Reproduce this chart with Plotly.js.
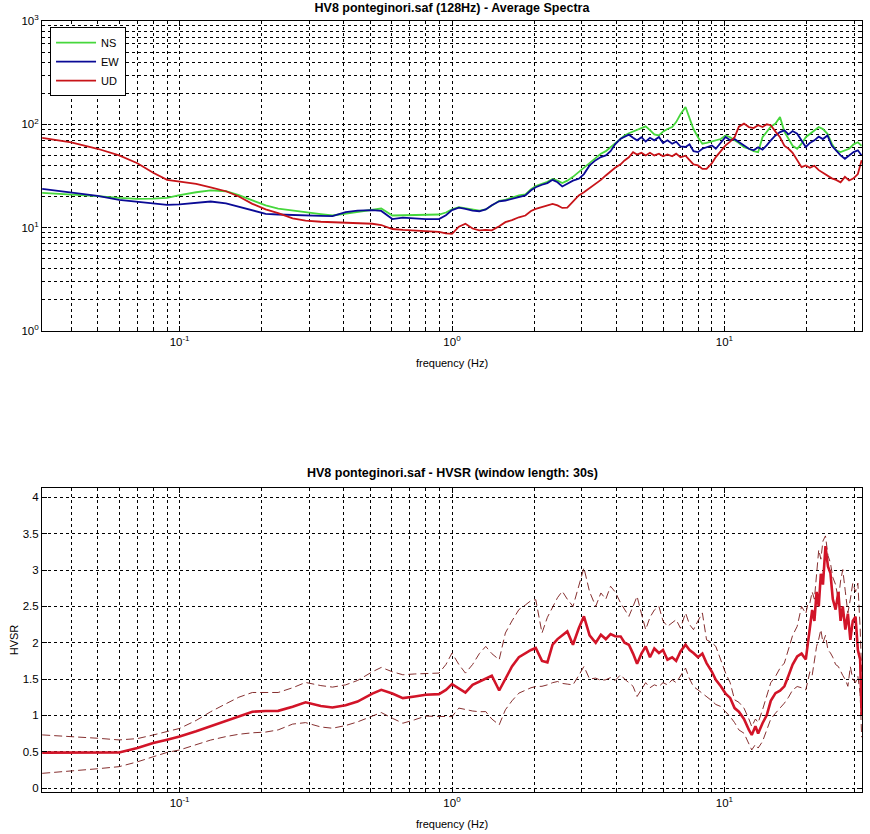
<!DOCTYPE html>
<html>
<head>
<meta charset="utf-8">
<script src="https://cdn.plot.ly/plotly-3.0.1.min.js"></script>
<style>html,body{margin:0;padding:0;background:#fff;}#chart{width:870px;height:834px;}</style>
</head>
<body>
<div id="chart"></div>
<script>
// ---------- Average spectra (top) ----------
const specFreq = [
0.0313,0.04,0.05,0.06,0.07,0.08,0.09,0.1,0.115,0.13,
0.148,0.165,0.185,0.207,0.23,0.26,0.29,0.33,0.364,0.407,
0.45,0.51,0.55,0.604,0.66,0.73,0.8,0.896,0.95,1.0,
1.06,1.12,1.19,1.26,1.33,1.4,1.49,1.57,1.66,1.76,
1.86,1.95,2.03,2.14,2.24,2.34,2.44,2.54,2.65,2.78,
2.92,3.05,3.2,3.37,3.52,3.67,3.82,3.97,4.16,4.3,
4.46,4.62,4.78,4.96,5.14,5.33,5.53,5.75,5.95,6.18,
6.43,6.65,6.9,7.2,7.45,7.7,8.0,8.3,8.6,9.0,
9.3,9.7,10.1,10.5,10.9,11.3,11.8,12.3,12.8,13.3,
13.8,14.3,14.8,15.4,16.0,16.6,17.2,17.8,18.5,19.2,
19.9,20.6,21.4,22.2,23.0,23.9,24.8,25.7,26.7,27.7,
28.7,29.8,30.9,31.9];

const specNS = [
21.7,21.0,20.2,19.4,19.0,19.1,19.4,20.6,22.0,22.9,
22.5,20.6,18.3,16.4,15.3,14.6,14.1,13.5,13.1,13.6,
14.2,14.8,15.3,13.1,13.2,13.2,13.2,13.4,14.0,15.0,
15.8,15.4,14.8,14.6,15.0,16.5,18.2,18.6,19.5,20.5,
21.0,23.5,25.2,26.5,27.8,29.5,28.5,27.0,28.5,31.0,
34.5,38.0,43.0,48.0,52.0,55.0,60.0,66.0,73.0,78.0,
82.0,85.0,87.5,92.0,95.6,88.0,80.0,78.0,85.0,90.0,
94.0,105.0,125.0,147.0,115.0,90.0,75.0,64.9,66.0,68.0,
70.0,72.0,78.0,75.0,70.0,66.0,60.0,58.0,55.0,53.8,
75.0,85.0,95.0,101.6,118.0,85.0,72.0,62.0,58.0,65.0,
75.0,81.0,88.0,94.0,90.0,81.0,65.0,56.0,53.8,56.0,
58.0,64.0,67.0,62.0];

const specEW = [
23.7,22.0,20.3,18.6,17.8,17.0,16.6,16.8,17.5,17.9,
17.2,16.0,14.8,13.6,13.4,13.3,13.3,13.0,12.9,14.1,
14.6,14.8,14.5,12.1,12.5,12.3,12.1,12.1,13.2,14.8,
15.6,15.2,14.6,14.4,15.0,16.5,18.0,18.3,19.0,20.0,
20.5,23.0,24.6,26.0,27.0,29.0,27.5,25.0,26.5,28.5,
29.7,33.0,40.0,45.0,48.2,50.0,55.0,64.0,72.6,76.0,
79.4,74.0,70.0,75.0,68.0,74.0,70.0,75.4,66.0,70.0,
64.9,68.0,61.0,60.3,64.0,55.0,53.8,58.0,60.0,62.5,
58.0,66.0,75.4,70.0,72.0,67.3,62.0,58.0,56.0,60.0,
57.0,62.5,70.0,78.0,84.0,87.5,80.0,86.0,81.0,70.0,
60.3,66.0,70.0,76.0,72.0,78.0,62.0,56.0,50.0,46.4,
50.0,53.8,56.0,50.0];

const specUD = [
74,67,58,50,42,34,29,28,26.5,24.5,
22.5,20.0,17.0,15.0,13.8,12.3,11.7,11.4,11.3,11.2,
11.0,10.9,10.6,9.7,9.5,9.4,9.3,9.1,8.8,8.7,
10.2,10.9,9.8,9.4,9.5,9.4,10.3,11.3,11.8,12.6,
13.1,14.5,15.2,15.8,16.5,17.0,16.4,15.5,15.6,18.0,
20.5,22.0,24.0,26.6,29.0,32.0,35.0,38.0,41.0,44.7,
48.0,53.8,51.0,53.0,50.0,53.0,50.0,51.9,49.0,51.0,
49.0,52.0,48.0,49.7,45.0,41.0,40.0,37.0,37.1,42.0,
48.2,55.0,62.5,68.0,75.0,95.0,101.6,94.0,92.0,98.0,
94.0,100.0,98.0,85.0,75.0,62.0,58.0,53.0,45.0,38.5,
40.0,38.0,39.7,36.0,34.0,32.0,30.0,29.0,27.5,31.0,
28.6,30.0,33.0,45.0];

// ---------- HVSR (bottom) ----------
const hvFreq = [
0.0313,0.04,0.05,0.06,0.07,0.08,0.09,0.1,0.115,0.13,
0.148,0.165,0.185,0.207,0.23,0.26,0.29,0.33,0.364,0.407,
0.45,0.51,0.55,0.604,0.66,0.73,0.8,0.896,0.95,1.0,
1.06,1.12,1.19,1.26,1.33,1.4,1.49,1.57,1.66,1.76,
1.86,1.95,2.03,2.14,2.24,2.34,2.44,2.54,2.65,2.78,
2.92,3.05,3.2,3.37,3.52,3.67,3.82,3.97,4.16,4.3,
4.46,4.62,4.78,4.96,5.14,5.33,5.53,5.75,5.95,6.18,
6.43,6.65,6.9,7.2,7.45,7.7,8.0,8.3,8.6,9.0,
9.3,9.7,10.1,10.5,10.9,11.3,11.8,12.3,12.6,13.0,
13.3,13.8,14.3,14.8,15.4,16.0,16.6,17.2,17.8,18.5,
19.2,19.9,20.3,20.6,21.0,21.4,21.8,22.2,22.6,23.0,
23.5,24.0,24.5,25.0,25.6,26.2,26.7,27.2,27.8,28.4,
29.0,29.6,30.3,30.9,31.5,31.9];

const hvMean = [
0.487,0.487,0.487,0.488,0.55,0.62,0.665,0.708,0.78,0.85,
0.93,0.99,1.05,1.06,1.062,1.12,1.18,1.13,1.108,1.14,
1.19,1.30,1.352,1.30,1.237,1.26,1.283,1.292,1.35,1.43,
1.375,1.315,1.42,1.46,1.50,1.545,1.342,1.50,1.673,1.80,
1.858,1.90,1.927,1.75,1.73,1.972,2.05,2.10,2.156,1.972,
2.20,2.363,2.10,2.00,2.11,2.05,2.12,2.09,2.087,2.00,
1.972,1.85,1.71,1.85,1.949,1.80,1.92,1.858,1.90,1.766,
1.80,1.75,1.88,1.972,1.90,1.858,1.80,1.85,1.72,1.60,
1.49,1.40,1.30,1.24,1.10,1.05,0.95,0.80,0.731,0.85,
0.75,0.892,1.00,1.20,1.306,1.34,1.40,1.55,1.70,1.81,
1.85,1.77,2.05,2.25,2.45,2.30,2.70,2.50,2.95,2.80,
3.33,3.05,2.96,2.60,2.455,2.70,2.30,2.50,2.18,2.40,
2.04,2.30,2.36,1.90,1.77,1.00];

const hvUpper = [
0.731,0.71,0.685,0.662,0.68,0.73,0.78,0.82,0.93,1.05,
1.16,1.25,1.315,1.315,1.315,1.38,1.453,1.41,1.389,1.42,
1.48,1.60,1.66,1.60,1.559,1.57,1.58,1.582,1.70,1.858,
1.70,1.582,1.70,1.85,1.949,1.85,1.766,2.134,2.30,2.455,
2.52,2.58,2.593,2.134,2.35,2.50,2.62,2.708,2.60,2.50,
2.80,3.03,2.70,2.50,2.685,2.60,2.777,2.70,2.547,2.45,
2.363,2.50,2.639,2.40,2.18,2.35,2.45,2.50,2.30,2.225,
2.28,2.317,2.20,2.41,2.25,2.18,2.30,2.41,2.04,2.00,
1.949,1.75,1.582,1.45,1.214,1.18,1.10,0.95,0.846,0.95,
0.90,1.076,1.25,1.45,1.536,1.65,1.72,1.90,2.10,2.225,
2.50,2.40,2.55,2.547,2.70,2.60,3.00,3.28,3.15,3.40,
3.47,3.20,3.10,2.90,2.80,2.59,2.85,3.007,2.70,2.41,
2.60,2.82,2.70,2.82,2.20,1.60];

const hvLower = [
0.202,0.23,0.265,0.294,0.36,0.43,0.49,0.524,0.60,0.66,
0.708,0.74,0.76,0.77,0.80,0.88,0.90,0.84,0.823,0.86,
0.91,0.99,1.039,0.96,0.892,0.94,0.99,0.985,0.98,0.983,
1.10,1.076,1.06,1.05,1.052,0.95,0.869,1.076,1.20,1.306,
1.35,1.38,1.397,1.40,1.42,1.45,1.466,1.44,1.43,1.42,
1.55,1.673,1.50,1.513,1.48,1.49,1.52,1.48,1.56,1.50,
1.45,1.40,1.26,1.35,1.45,1.38,1.42,1.397,1.45,1.42,
1.49,1.45,1.55,1.651,1.50,1.397,1.35,1.306,1.26,1.20,
1.15,1.122,1.05,0.983,0.90,0.80,0.754,0.62,0.524,0.60,
0.55,0.64,0.80,0.95,1.03,1.10,1.168,1.25,1.35,1.397,
1.38,1.35,1.50,1.60,1.55,1.766,1.95,2.05,2.18,2.00,
2.10,1.90,1.86,1.80,1.70,1.673,1.60,1.55,1.49,1.40,
1.67,1.50,1.45,1.54,1.30,0.70];

// ---------- tick labels ----------
const xTickVals = [0.1, 1, 10];
const xTickText = ['10<sup>-1</sup>', '10<sup>0</sup>', '10<sup>1</sup>'];
const xMinorVals = [0.04,0.05,0.06,0.07,0.08,0.09,0.2,0.3,0.4,0.5,0.6,0.7,0.8,0.9,2,3,4,5,6,7,8,9,20,30];
const ySpecTickVals = [1, 10, 100, 1000];
const ySpecTickText = ['10<sup>0</sup>', '10<sup>1</sup>', '10<sup>2</sup>', '10<sup>3</sup>'];
const ySpecMinorVals = [2,3,4,5,6,7,8,9,20,30,40,50,60,70,80,90,200,300,400,500,600,700,800,900];
const yHvTickVals = [0, 0.5, 1, 1.5, 2, 2.5, 3, 3.5, 4];
const yHvTickText = ['0', '0.5', '1', '1.5', '2', '2.5', '3', '3.5', '4'];

const traces = [
  {x: specFreq, y: specNS, name: 'NS', type: 'scatter', mode: 'lines', xaxis: 'x', yaxis: 'y',
   line: {color: 'rgb(70,215,60)', width: 1.8}},
  {x: specFreq, y: specEW, name: 'EW', type: 'scatter', mode: 'lines', xaxis: 'x', yaxis: 'y',
   line: {color: 'rgb(10,10,150)', width: 1.8}},
  {x: specFreq, y: specUD, name: 'UD', type: 'scatter', mode: 'lines', xaxis: 'x', yaxis: 'y',
   line: {color: 'rgb(200,20,25)', width: 1.8}},
  {x: hvFreq, y: hvUpper, name: 'HVSR + std', type: 'scatter', mode: 'lines', xaxis: 'x2', yaxis: 'y2',
   showlegend: false, line: {color: 'rgb(120,25,25)', width: 0.9, dash: '8px,4px'}},
  {x: hvFreq, y: hvLower, name: 'HVSR - std', type: 'scatter', mode: 'lines', xaxis: 'x2', yaxis: 'y2',
   showlegend: false, line: {color: 'rgb(120,25,25)', width: 0.9, dash: '8px,4px'}},
  {x: hvFreq, y: hvMean, name: 'HVSR', type: 'scatter', mode: 'lines', xaxis: 'x2', yaxis: 'y2',
   showlegend: false, line: {color: 'rgb(210,20,40)', width: 2.6}}
];

const gridStyle = {showgrid: true, gridcolor: 'black', gridwidth: 1, griddash: '3px,3px'};
const axisBase = Object.assign({
  showline: true, linecolor: 'black', linewidth: 1, mirror: 'ticks',
  ticks: 'inside', ticklen: 5, tickwidth: 1, tickcolor: 'black', zeroline: false,
  tickfont: {size: 11.5, color: 'black'}
}, gridStyle);

const xRange = [Math.log10(1/32), Math.log10(32)];
function xAxis(anchor) {
  return Object.assign({}, axisBase, {
    type: 'log', range: xRange, anchor: anchor, domain: [0, 1],
    tickmode: 'array', tickvals: xTickVals, ticktext: xTickText,
    minor: {tickmode: 'array', tickvals: xMinorVals, ticks: 'inside', ticklen: 3, tickcolor: 'black',
            showgrid: true, gridcolor: 'black', gridwidth: 1, griddash: '3px,3px'},
    title: {text: 'frequency (Hz)', font: {size: 11, color: 'black'}, standoff: 12}
  });
}

const layout = {
  width: 870, height: 834,
  margin: {l: 42, r: 8, t: 21, b: 42},
  paper_bgcolor: 'white', plot_bgcolor: 'white',
  font: {family: 'Liberation Sans, Arial, Helvetica, sans-serif', size: 11, color: 'black'},
  showlegend: true,
  legend: {x: 0.0098, y: 0.992, xanchor: 'left', yanchor: 'top', bgcolor: 'white',
           bordercolor: 'black', borderwidth: 1, font: {size: 11}, tracegroupgap: 0, itemwidth: 40},
  title: {text: '<b>HV8 ponteginori.saf (128Hz) - Average Spectra</b>', x: 0.5195, y: 0.9905,
          xanchor: 'center', yanchor: 'middle', font: {size: 12.5, color: 'black'}},
  xaxis: xAxis('y'),
  yaxis: Object.assign({}, axisBase, {
    type: 'log', range: [0, 3], domain: [0.598, 1], anchor: 'x',
    tickmode: 'array', tickvals: ySpecTickVals, ticktext: ySpecTickText,
    minor: {tickmode: 'array', tickvals: ySpecMinorVals, ticks: 'inside', ticklen: 3, tickcolor: 'black',
            showgrid: true, gridcolor: 'black', gridwidth: 1, griddash: '3px,3px'}
  }),
  xaxis2: xAxis('y2'),
  yaxis2: Object.assign({}, axisBase, {
    range: [-0.055, 4.13], domain: [0, 0.3943], anchor: 'x2',
    tickmode: 'array', tickvals: yHvTickVals, ticktext: yHvTickText,
    title: {text: 'HVSR', font: {size: 11, color: 'black'}, standoff: 1}
  }),
  annotations: [{
    text: '<b>HV8 ponteginori.saf - HVSR (window length: 30s)</b>',
    xref: 'paper', yref: 'paper', x: 0.5, y: 0.4137, xanchor: 'center', yanchor: 'middle',
    showarrow: false, font: {size: 12.5, color: 'black'}
  }]
};

Plotly.newPlot('chart', traces, layout, {displayModeBar: false, staticPlot: true});
</script>
</body>
</html>
